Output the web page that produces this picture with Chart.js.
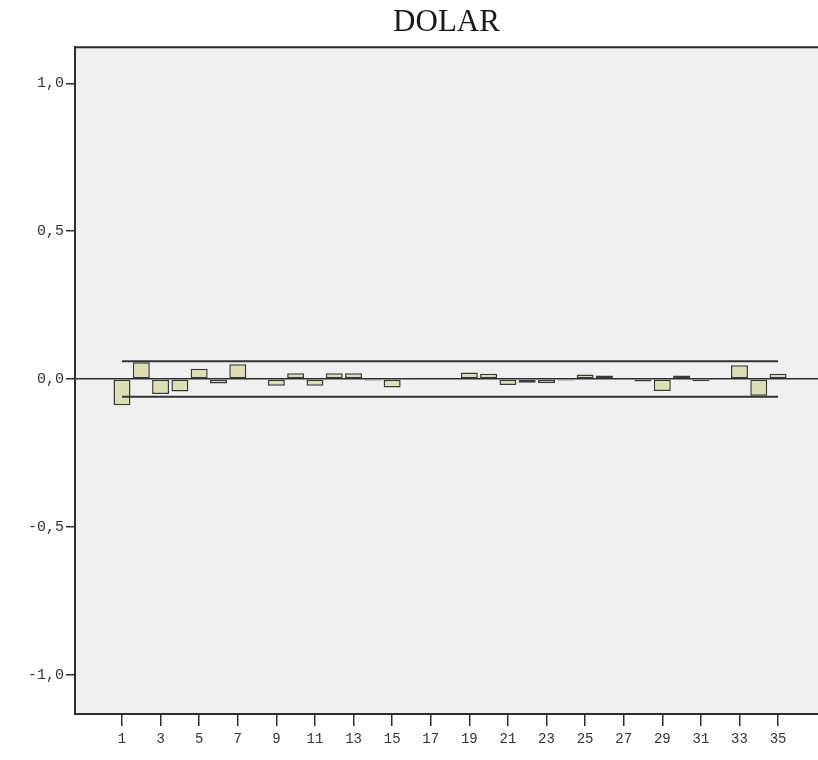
<!DOCTYPE html>
<html>
<head>
<meta charset="utf-8">
<script src="https://cdn.jsdelivr.net/npm/chart.js@4/dist/chart.umd.min.js"></script>
<style>
  html, body { margin: 0; padding: 0; background: #ffffff; }
  #wrap { width: 818px; height: 760px; }
</style>
</head>
<body>
<div id="wrap"><canvas id="acf"></canvas></div>
<script>
// Autocorrelation function of DOLAR, lags 1..35
const lags = [1,2,3,4,5,6,7,8,9,10,11,12,13,14,15,16,17,18,19,20,21,22,23,24,25,26,27,28,29,30,31,32,33,34,35];
const acf = [
  -0.088, 0.057, -0.050, -0.042, 0.035, -0.015, 0.050, 0.003, -0.022, 0.020,
  -0.022, 0.020, 0.020, -0.005, -0.028, -0.003, 0.000, 0.000, 0.022, 0.018,
  -0.020, -0.012, -0.014, -0.005, 0.016, 0.012, -0.003, -0.008, -0.040, 0.012,
  -0.007, 0.001, 0.047, -0.056, 0.018
];
// Upper and lower confidence limits
const upperLimit = [
  0.060, 0.060, 0.060, 0.060, 0.060, 0.060, 0.060, 0.060, 0.060, 0.060,
  0.060, 0.060, 0.060, 0.060, 0.060, 0.060, 0.060, 0.060, 0.060, 0.060,
  0.060, 0.060, 0.060, 0.060, 0.060, 0.060, 0.060, 0.060, 0.060, 0.060,
  0.060, 0.060, 0.060, 0.060, 0.060
];
const lowerLimit = [
  -0.060, -0.060, -0.060, -0.060, -0.060, -0.060, -0.060, -0.060, -0.060, -0.060,
  -0.060, -0.060, -0.060, -0.060, -0.060, -0.060, -0.060, -0.060, -0.060, -0.060,
  -0.060, -0.060, -0.060, -0.060, -0.060, -0.060, -0.060, -0.060, -0.060, -0.060,
  -0.060, -0.060, -0.060, -0.060, -0.060
];
const xTickValues = [1,3,5,7,9,11,13,15,17,19,21,23,25,27,29,31,33,35];
const yTickValues = [-1, -0.5, 0, 0.5, 1];
const titleText = 'DOLAR';

const AXIS = '#2e2e2e';
const MONO = '"Liberation Mono", "DejaVu Sans Mono", monospace';

// Grey plot background and the top frame line
const plotFrame = {
  id: 'plotFrame',
  beforeDraw(chart) {
    const { ctx, chartArea: a } = chart;
    ctx.save();
    ctx.fillStyle = '#f0f0f0';
    ctx.fillRect(a.left, a.top, a.right - a.left, a.bottom - a.top);
    ctx.restore();
  },
  afterDraw(chart) {
    const { ctx, chartArea: a } = chart;
    ctx.save();
    ctx.strokeStyle = AXIS;
    ctx.lineWidth = 2;
    ctx.beginPath();
    ctx.moveTo(a.left, a.top);
    ctx.lineTo(a.right, a.top);
    ctx.stroke();
    ctx.restore();
  }
};

new Chart(document.getElementById('acf'), {
  data: {
    datasets: [
      {
        type: 'bar',
        label: 'ACF',
        data: lags.map((l, i) => ({ x: l, y: acf[i] })),
        backgroundColor: '#dedeb4',
        borderColor: '#3a3a3a',
        borderWidth: 1.5,
        borderSkipped: false,
        barPercentage: 0.88,
        categoryPercentage: 1.0,
        order: 2
      },
      {
        type: 'line',
        label: 'Upper Confidence Limit',
        data: lags.map((l, i) => ({ x: l, y: upperLimit[i] })),
        borderColor: '#333333',
        borderWidth: 2,
        pointRadius: 0,
        fill: false,
        order: 1
      },
      {
        type: 'line',
        label: 'Lower Confidence Limit',
        data: lags.map((l, i) => ({ x: l, y: lowerLimit[i] })),
        borderColor: '#333333',
        borderWidth: 2,
        pointRadius: 0,
        fill: false,
        order: 1
      }
    ]
  },
  options: {
    responsive: true,
    maintainAspectRatio: false,
    animation: false,
    layout: { padding: { left: 0, right: 0, top: 0, bottom: 0 } },
    plugins: {
      legend: { display: false },
      tooltip: { enabled: false },
      title: {
        display: true,
        fullSize: false,
        text: titleText,
        color: '#1a1a1a',
        font: { family: '"Liberation Serif", "DejaVu Serif", serif', size: 31, weight: 'normal', lineHeight: 1.2 },
        padding: { top: 4, bottom: 6 }
      }
    },
    scales: {
      x: {
        type: 'linear',
        min: -1.436,
        max: 37.07,
        offset: false,
        afterBuildTicks(scale) {
          scale.ticks = xTickValues.map(v => ({ value: v }));
        },
        afterFit(scale) { scale.height = 46; },
        grid: {
          display: true,
          offset: false,
          drawOnChartArea: false,
          color: AXIS,
          tickColor: AXIS,
          tickLength: 12,
          lineWidth: 1.5
        },
        border: { display: true, color: AXIS, width: 2 },
        ticks: {
          autoSkip: false,
          maxRotation: 0,
          color: '#333333',
          padding: 5,
          font: { family: MONO, size: 14 },
          callback: v => String(v)
        }
      },
      y: {
        type: 'linear',
        min: -1.132,
        max: 1.122,
        afterBuildTicks(scale) {
          scale.ticks = yTickValues.map(v => ({ value: v }));
        },
        afterFit(scale) { scale.width = 75; },
        grid: {
          display: true,
          drawOnChartArea: true,
          color: ctx => (ctx.tick && ctx.tick.value === 0) ? AXIS : 'rgba(0,0,0,0)',
          lineWidth: 1.5,
          tickColor: AXIS,
          tickLength: 9
        },
        border: { display: true, color: AXIS, width: 2 },
        ticks: {
          color: '#333333',
          padding: 2,
          font: { family: MONO, size: 15 },
          callback: v => v.toFixed(1).replace('.', ',')
        }
      }
    }
  },
  plugins: [plotFrame]
});
</script>
</body>
</html>
